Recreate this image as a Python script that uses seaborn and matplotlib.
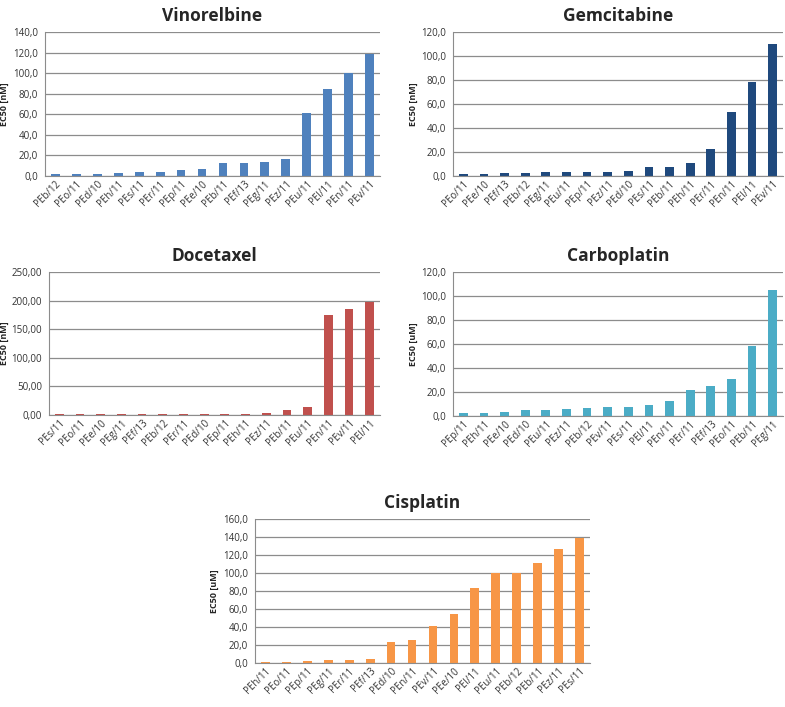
import numpy as np
import pandas as pd
import matplotlib
matplotlib.use("Agg")
import matplotlib.pyplot as plt
from matplotlib.ticker import FuncFormatter, FixedLocator
import seaborn as sns

sns.set_style("white")
plt.rcParams['font.family'] = ['Open Sans', 'DejaVu Sans']

vin_labels = ['PEb/12', 'PEo/11', 'PEd/10', 'PEh/11', 'PEs/11', 'PEr/11', 'PEp/11', 'PEe/10',
              'PEb/11', 'PEf/13', 'PEg/11', 'PEz/11', 'PEu/11', 'PEl/11', 'PEn/11', 'PEv/11']
vin_values = [1.6, 1.6, 1.6, 2.9, 3.9, 3.9, 5.5, 6.5, 12.6, 12.6, 13.3, 16.2, 61.2, 84.6, 100.1, 118.3]

gem_labels = ['PEo/11', 'PEe/10', 'PEf/13', 'PEb/12', 'PEg/11', 'PEu/11', 'PEp/11', 'PEz/11',
              'PEd/10', 'PEs/11', 'PEb/11', 'PEh/11', 'PEr/11', 'PEn/11', 'PEl/11', 'PEv/11']
gem_values = [1.4, 1.9, 2.5, 2.5, 3.3, 3.3, 3.3, 3.3, 4.4, 7.2, 7.2, 10.6, 22.2, 53.0, 78.3, 110.0]

doc_labels = ['PEs/11', 'PEo/11', 'PEe/10', 'PEg/11', 'PEf/13', 'PEb/12', 'PEr/11', 'PEd/10',
              'PEp/11', 'PEh/11', 'PEz/11', 'PEb/11', 'PEu/11', 'PEn/11', 'PEv/11', 'PEl/11']
doc_values = [2.2, 2.2, 2.2, 2.2, 2.2, 2.2, 2.2, 2.2, 2.2, 2.2, 4.0, 8.7, 13.4, 175.0, 185.5, 197.5]

carb_labels = ['PEp/11', 'PEh/11', 'PEe/10', 'PEd/10', 'PEu/11', 'PEz/11', 'PEb/12', 'PEv/11',
               'PEs/11', 'PEl/11', 'PEn/11', 'PEr/11', 'PEf/13', 'PEo/11', 'PEb/11', 'PEg/11']
carb_values = [2.2, 2.8, 3.6, 4.7, 4.7, 6.1, 6.7, 7.5, 7.5, 8.9, 12.2, 21.7, 25.3, 30.8, 58.0, 105.3]

cis_labels = ['PEh/11', 'PEo/11', 'PEp/11', 'PEg/11', 'PEr/11', 'PEf/13', 'PEd/10', 'PEn/11',
              'PEv/11', 'PEe/10', 'PEl/11', 'PEu/11', 'PEb/12', 'PEb/11', 'PEz/11', 'PEs/11']
cis_values = [1.0, 1.0, 2.0, 2.9, 2.9, 4.1, 22.9, 25.5, 41.4, 53.9, 83.0, 99.7, 99.7, 111.5, 126.7, 139.2]

W, H = 785, 707
fig = plt.figure(figsize=(W / 100, H / 100), dpi=100)

# (title, labels, values, colour, ylabel, ymax, step, decimals, box px: left, top, right, bottom, ylabel x px)
panels = [
    ('Vinorelbine', vin_labels, vin_values, '#4F81BD', 'EC50 [nM]', 140, 20, 1, (45, 32, 380, 176, 9)),
    ('Gemcitabine', gem_labels, gem_values, '#1F497D', 'EC50 [nM]', 120, 20, 1, (453, 32, 783, 176, 418)),
    ('Docetaxel', doc_labels, doc_values, '#C0504D', 'EC50 [nM]', 250, 50, 2, (49, 272, 380, 415, 9)),
    ('Carboplatin', carb_labels, carb_values, '#4BACC6', 'EC50 [uM]', 120, 20, 1, (453, 272, 783, 416, 418)),
    ('Cisplatin', cis_labels, cis_values, '#F79646', 'EC50 [uM]', 160, 20, 1, (255, 519, 590, 663, 219)),
]

for title, labels, values, color, ylab, ymax, step, dec, (l, t, r, b, lx) in panels:
    ax = fig.add_axes([l / W, 1 - b / H, (r - l) / W, (b - t) / H])
    df = pd.DataFrame({'sample': labels, 'ec50': values})
    sns.barplot(data=df, x='sample', y='ec50', order=labels, color=color,
                width=0.42, saturation=1, edgecolor='none', ax=ax)
    ax.set_xlim(-0.5, len(labels) - 0.5)
    ax.set_ylim(0, ymax)
    ax.set_yticks(np.arange(0, ymax + step / 2, step))
    ax.yaxis.set_major_formatter(FuncFormatter(lambda v, p, d=dec: f"{v:.{d}f}".replace('.', ',')))
    ax.grid(axis='y', color='#8c8c8c', linewidth=0.9)
    ax.set_axisbelow(True)
    for s in ['top', 'right']:
        ax.spines[s].set_visible(False)
    ax.spines['left'].set_color('#8c8c8c')
    ax.spines['bottom'].set_color('#8c8c8c')
    ax.tick_params(axis='y', labelsize=7, colors='#333333', length=3, color='#8c8c8c', pad=2)
    ax.tick_params(axis='x', which='major', length=0, labelsize=7, colors='#333333', pad=2)
    ax.xaxis.set_minor_locator(FixedLocator(np.arange(-0.5, len(labels), 1)))
    ax.tick_params(axis='x', which='minor', length=4, color='#8c8c8c', direction='out')
    plt.setp(ax.get_xticklabels(), rotation=45, ha='right', rotation_mode='anchor')
    ax.set_xlabel('')
    ax.set_ylabel(ylab, fontsize=6.5, fontweight='bold')
    ax.yaxis.set_label_coords((lx - l) / (r - l), 0.5)
    ax.set_title(title, fontsize=12.5, fontweight='bold', pad=8)

fig.savefig('out.png', dpi=100)
